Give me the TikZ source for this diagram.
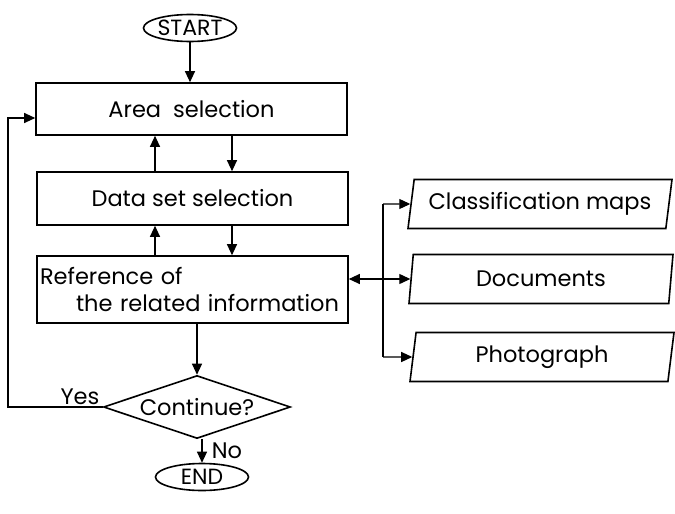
\documentclass[tikz,border=0pt]{standalone}
\usepackage{fontspec}
\setmainfont{Poppins}
\usetikzlibrary{shapes.geometric,arrows.meta}

\begin{document}
\begin{tikzpicture}[x=1pt,y=-1pt,
  every node/.style={font=\fontsize{22.5}{27}\selectfont},
  box/.style={draw,line width=1.6pt,minimum width=311pt,inner sep=0pt},
  term/.style={draw,ellipse,line width=1.6pt,minimum width=93pt,minimum height=27pt,inner sep=-3pt,
    font=\fontsize{22}{24}\selectfont},
  decision/.style={draw,diamond,aspect=3,line width=1.6pt,minimum width=187pt,minimum height=63pt,inner sep=0pt},
  data/.style={draw,trapezium,trapezium left angle=75,trapezium right angle=105,
    trapezium stretches body,line width=1.6pt,minimum width=264pt,minimum height=49pt,inner sep=0pt},
  line/.style={line width=1.1pt},
  arrow/.style={line,-{Triangle[length=11pt,width=10pt]}},
  dblarrow/.style={line,{Triangle[length=11pt,width=10pt]}-{Triangle[length=11pt,width=10pt]}}]
  \useasboundingbox (0,0) rectangle (675,514);
  % flow column
  \node[term] (start) at (190,28) {START};
  \node[box,minimum height=52pt] (area) at (191.5,109) {Area\ \ selection};
  \node[box,minimum height=53pt] (dset) at (192.5,198.5) {Data set selection};
  \node[box,minimum height=67pt,text width=305pt,align=left] (ref) at (192.5,289.5)
    {Reference of\\\mbox{\hspace*{36pt}the related information}};
  \node[decision] (dec) at (197,407) {Continue?};
  \node[term] (end) at (202,477) {END};
  \node (yes) at (80,397) {Yes};
  \node (no) at (227,451) {No};
  % related information
  \node[data] (cls) at (540,204) {Classification maps};
  \node[data] (doc) at (541,279) {Documents};
  \node[data] (pho) at (542,357) {Photograph};
  \coordinate (up) at (155,0);
  \coordinate (dn) at (232,0);
  \coordinate (back) at (8,118);
  \coordinate (jtop) at (383,204);
  \coordinate (jbot) at (383,357);
  \draw[arrow] (start) -- (start |- area.north);
  \draw[arrow] (area.south -| dn) -- (dset.north -| dn);
  \draw[arrow] (dset.north -| up) -- (area.south -| up);
  \draw[arrow] (dset.south -| dn) -- (ref.north -| dn);
  \draw[arrow] (ref.north -| up) -- (dset.south -| up);
  \draw[arrow] (ref.south -| dec) -- (dec.north);
  \draw[arrow] (dec.south -| end) -- (end.north);
  \draw[arrow] (dec.west) -| (back) -- (area.west |- back);
  \draw[dblarrow] (ref.east |- doc.west) -- (doc.west);
  \draw[line] (jtop) -- (jbot);
  \draw[arrow] (jtop) -- (cls.west);
  \draw[arrow] (jbot) -- (pho.west);
\end{tikzpicture}
\end{document}
